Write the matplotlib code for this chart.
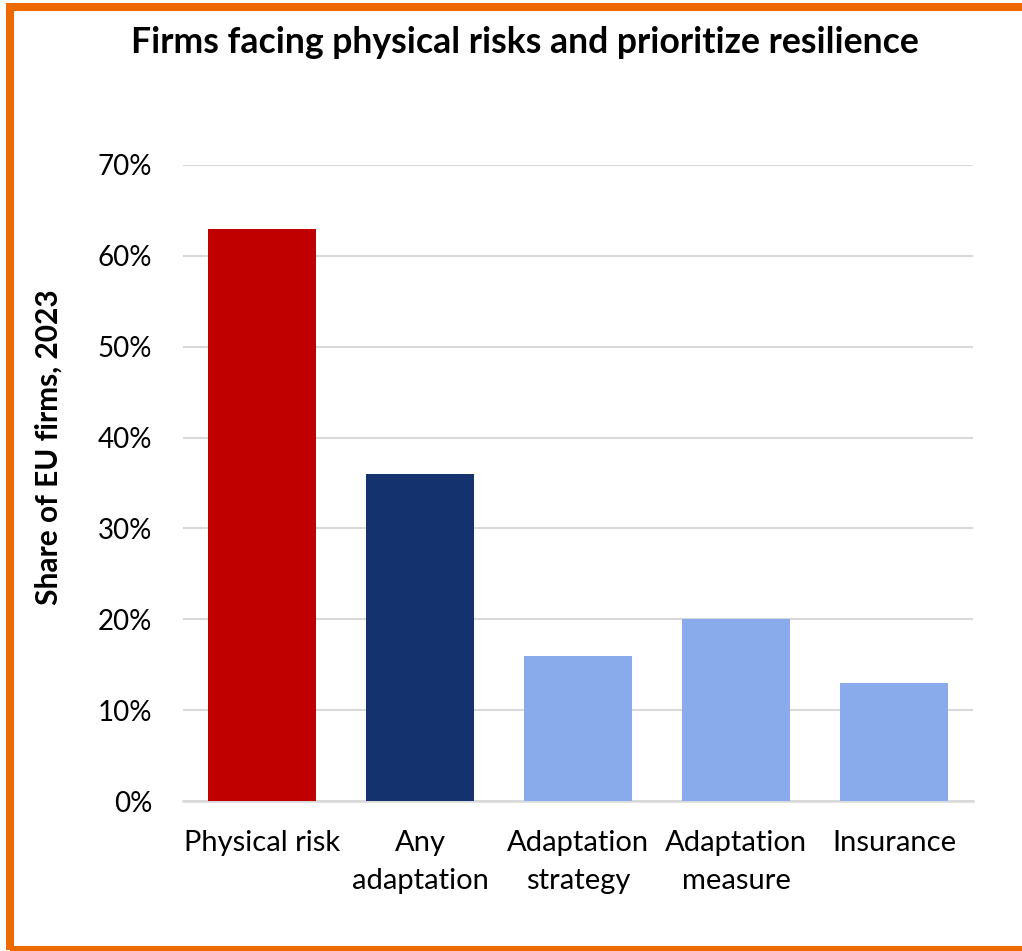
import matplotlib
matplotlib.use("Agg")
import matplotlib.pyplot as plt
from matplotlib.patches import Rectangle
from matplotlib.ticker import PercentFormatter

categories = ["Physical risk", "Any\nadaptation", "Adaptation\nstrategy", "Adaptation\nmeasure", "Insurance"]
shares = [0.63, 0.36, 0.16, 0.20, 0.13]
bar_colors = ["#C00000", "#13326E", "#8AABEB", "#8AABEB", "#8AABEB"]
y_ticks = [0.0, 0.1, 0.2, 0.3, 0.4, 0.5, 0.6, 0.7]

plt.rcParams["font.family"] = ["Lato", "DejaVu Sans"]

fig = plt.figure(figsize=(10.22, 9.51), dpi=100)
ax = fig.add_axes([0.179, 0.1577, 0.773, 0.6688])

x = range(len(categories))
ax.bar(x, shares, width=0.68, color=bar_colors, zorder=3)

ax.set_xlim(-0.5, len(categories) - 0.5)
ax.set_ylim(0, 0.7)
ax.set_yticks(y_ticks)
ax.yaxis.set_major_formatter(PercentFormatter(1.0, decimals=0))
ax.set_xticks(list(x))
ax.set_xticklabels(categories, linespacing=1.55)

ax.grid(axis="y", color="#D9D9D9", linewidth=1.5, zorder=0)
for side in ["top", "right", "left"]:
    ax.spines[side].set_visible(False)
ax.spines["bottom"].set_color("#D9D9D9")
ax.spines["bottom"].set_linewidth(1.8)

ax.tick_params(axis="y", length=0, pad=22, labelsize=20, labelcolor="#000000")
ax.tick_params(axis="x", length=0, pad=21, labelsize=21, labelcolor="#000000")

ax.set_ylabel("Share of EU firms, 2023", fontsize=21.5, fontweight="bold")
ax.yaxis.set_label_coords(-0.152, 0.557, transform=ax.transAxes)

fig.text(0.514, 0.955, "Firms facing physical risks and prioritize resilience",
         ha="center", va="center", fontsize=25.7, fontweight="bold")

# orange frame around the whole chart (right edge runs off the canvas)
frame = Rectangle((10 / 1022, 1 / 951), 1030 / 1022, 943 / 951, transform=fig.transFigure,
                  fill=False, edgecolor="#EC6A00", linewidth=5.8, zorder=10)
fig.add_artist(frame)

fig.savefig("out.png", dpi=100, facecolor="white")
